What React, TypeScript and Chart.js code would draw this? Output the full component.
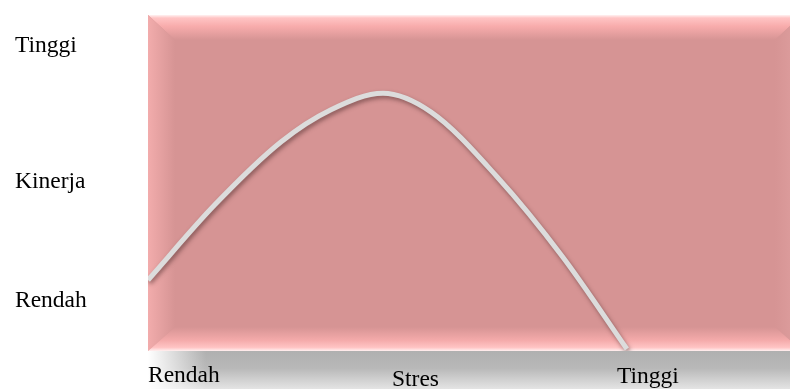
import React, { useEffect, useRef } from "react";
import { Chart, registerables } from "chart.js";

Chart.register(...registerables);

// Curve: stress (x) vs performance (y), both on 0..100 scales
const stressX = [0, 10.4, 20.7, 28.5, 36.6, 44.1, 54.4, 64.6, 74.6];
const performanceY = [21.1, 43.5, 62.2, 71.8, 76.7, 71.1, 51.8, 28.0, 0.6];

// Axis labels and where they sit on the scales
const yLabels = ["Tinggi", "Kinerja", "Rendah"];
const yLabelValues = [89.0, 48.5, 13.1];
const xLabels = ["Rendah", "Stres", "Tinggi"];
const xLabelValues = [0, 38.0, 73.05];

const FONT = "23.5px 'Liberation Serif', 'Times New Roman', serif";

const backdropPlugin = {
  id: "backdrop",
  beforeDraw(chart: any) {
    const { ctx, chartArea, width, height } = chart;
    const { left, top, right, bottom } = chartArea;
    const R = right + 12;
    const bw = 27;
    const bh = 25;
    ctx.save();
    // base
    ctx.fillStyle = "#D69494";
    ctx.fillRect(left, top, R - left, bottom - top);
    // top bevel
    let g = ctx.createLinearGradient(0, top, 0, top + bh);
    g.addColorStop(0, "#FFF2F2");
    g.addColorStop(0.12, "#FFC4C4");
    g.addColorStop(0.45, "#F8ACAC");
    g.addColorStop(1, "#D69494");
    ctx.fillStyle = g;
    ctx.beginPath();
    ctx.moveTo(left, top);
    ctx.lineTo(R, top);
    ctx.lineTo(R - bw, top + bh);
    ctx.lineTo(left + bw, top + bh);
    ctx.closePath();
    ctx.fill();
    // left bevel
    g = ctx.createLinearGradient(left, 0, left + bw, 0);
    g.addColorStop(0, "#F2ACAC");
    g.addColorStop(1, "#D69494");
    ctx.fillStyle = g;
    ctx.beginPath();
    ctx.moveTo(left, top);
    ctx.lineTo(left + bw, top + bh);
    ctx.lineTo(left + bw, bottom - bh + 1);
    ctx.lineTo(left, bottom);
    ctx.closePath();
    ctx.fill();
    // right bevel
    g = ctx.createLinearGradient(R - bw, 0, R, 0);
    g.addColorStop(0, "#D69494");
    g.addColorStop(1, "#DFA0A0");
    ctx.fillStyle = g;
    ctx.beginPath();
    ctx.moveTo(R, top);
    ctx.lineTo(R - bw, top + bh);
    ctx.lineTo(R - bw, bottom - bh + 1);
    ctx.lineTo(R, bottom);
    ctx.closePath();
    ctx.fill();
    // bottom bevel
    g = ctx.createLinearGradient(0, bottom - bh + 1, 0, bottom);
    g.addColorStop(0, "#D69494");
    g.addColorStop(0.55, "#F4AAAA");
    g.addColorStop(0.85, "#FFC4C4");
    g.addColorStop(1, "#FFF0F0");
    ctx.fillStyle = g;
    ctx.beginPath();
    ctx.moveTo(left, bottom);
    ctx.lineTo(left + bw, bottom - bh + 1);
    ctx.lineTo(R - bw, bottom - bh + 1);
    ctx.lineTo(R, bottom);
    ctx.closePath();
    ctx.fill();
    // gray bar under the plot
    g = ctx.createLinearGradient(0, bottom, 0, height);
    g.addColorStop(0, "#B0B0B0");
    g.addColorStop(0.45, "#B8B8B8");
    g.addColorStop(1, "#E4E4E4");
    ctx.fillStyle = g;
    ctx.fillRect(left, bottom, width - left, height - bottom);
    g = ctx.createLinearGradient(left, 0, left + 58, 0);
    g.addColorStop(0, "rgba(255,255,255,1)");
    g.addColorStop(1, "rgba(255,255,255,0)");
    ctx.fillStyle = g;
    ctx.fillRect(left, bottom, 58, height - bottom);
    ctx.restore();
  },
  beforeDatasetsDraw(chart: any) {
    const ctx = chart.ctx;
    ctx.save();
    ctx.shadowColor = "rgba(60,30,30,0.5)";
    ctx.shadowBlur = 4;
    ctx.shadowOffsetX = 1.5;
    ctx.shadowOffsetY = 2.5;
  },
  afterDatasetsDraw(chart: any) {
    chart.ctx.restore();
  },
  afterDraw(chart: any) {
    const { ctx, chartArea, scales } = chart;
    ctx.save();
    ctx.font = FONT;
    ctx.fillStyle = "#000000";
    ctx.textAlign = "left";
    ctx.textBaseline = "alphabetic";
    yLabels.forEach((t, i) => {
      ctx.fillText(t, 15, scales.y.getPixelForValue(yLabelValues[i]));
    });
    const dy = [0, 4, 1];
    xLabels.forEach((t, i) => {
      ctx.fillText(t, scales.x.getPixelForValue(xLabelValues[i]), chartArea.bottom + 31 + dy[i]);
    });
    ctx.restore();
  },
};

export default function App() {
  const ref = useRef<HTMLCanvasElement | null>(null);
  useEffect(() => {
    document.body.style.margin = "0";
    const canvas = ref.current;
    if (!canvas) return;
    const chart = new Chart(canvas, {
      type: "line",
      data: {
        datasets: [
          {
            data: stressX.map((x, i) => ({ x, y: performanceY[i] })),
            borderColor: "#DCDCDC",
            borderWidth: 5,
            pointRadius: 0,
            cubicInterpolationMode: "monotone",
            fill: false,
          },
        ],
      },
      options: {
        responsive: false,
        animation: false,
        devicePixelRatio: 1,
        layout: { padding: { left: 148, top: 15, right: 0, bottom: 38 } },
        plugins: { legend: { display: false }, tooltip: { enabled: false } },
        scales: {
          x: { type: "linear", min: 0, max: 100, display: false },
          y: { type: "linear", min: 0, max: 100, display: false },
        },
      },
      plugins: [backdropPlugin],
    });
    return () => chart.destroy();
  }, []);
  return <canvas ref={ref} width={790} height={389} style={{ display: "block" }} />;
}
